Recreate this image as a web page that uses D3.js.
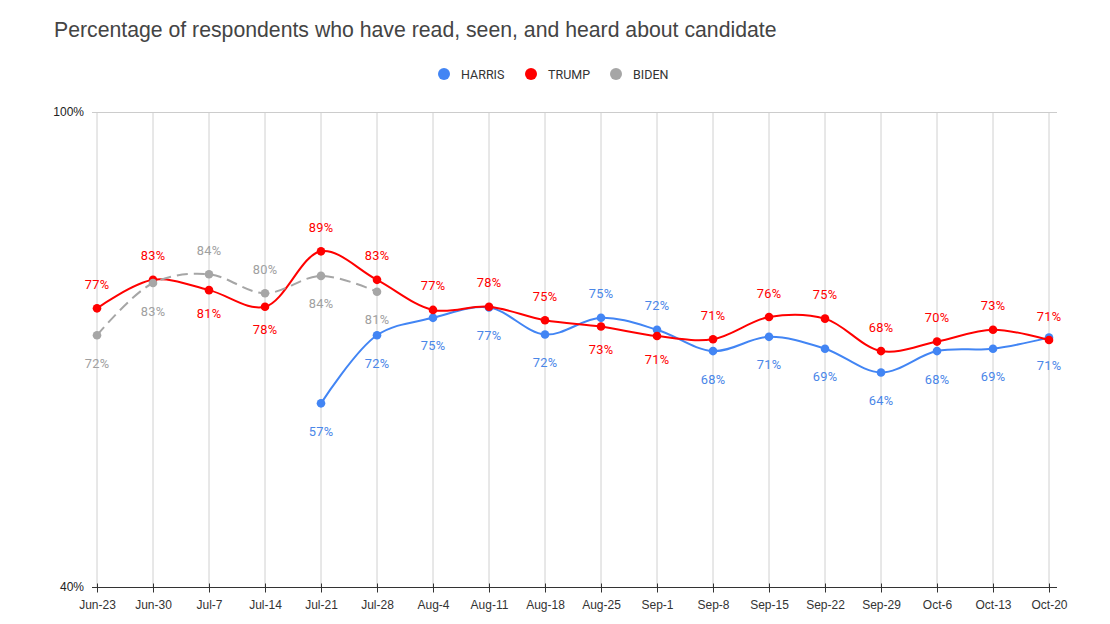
<!DOCTYPE html>
<html>
<head>
<meta charset="utf-8">
<script src="https://cdn.jsdelivr.net/npm/d3@7"></script>
<style>
  html, body { margin: 0; padding: 0; background: #fff; }
  svg { display: block; }
</style>
</head>
<body>
<svg id="chart" width="1110" height="624"></svg>
<script>
// ---- data ----
const categories = ["Jun-23","Jun-30","Jul-7","Jul-14","Jul-21","Jul-28","Aug-4","Aug-11","Aug-18","Aug-25","Sep-1","Sep-8","Sep-15","Sep-22","Sep-29","Oct-6","Oct-13","Oct-20"];
const seriesNames = ["HARRIS","TRUMP","BIDEN"];
// plotted values (as read against the 40%–100% axis)
const harrisValues = [null,null,null,null,63.2,71.8,74.0,75.3,71.9,74.0,72.5,69.8,71.6,70.1,67.1,69.8,70.1,71.5];
const trumpValues  = [75.2,78.8,77.5,75.4,82.4,78.8,75.0,75.4,73.7,72.9,71.7,71.3,74.1,73.9,69.8,71.0,72.5,71.2];
const bidenValues  = [71.8,78.4,79.5,77.1,79.3,77.3,null,null,null,null,null,null,null,null,null,null,null,null];
// data labels shown on the chart
const harrisLabels = [null,null,null,null,57,72,75,77,72,75,72,68,71,69,64,68,69,71];
const trumpLabels  = [77,83,81,78,89,83,77,78,75,73,71,71,76,75,68,70,73,71];
const bidenLabels  = [72,83,84,80,84,81,null,null,null,null,null,null,null,null,null,null,null,null];
// label side: 1 = above the point, -1 = below
const harrisLabelSide = [0,0,0,0,-1,-1,-1,-1,-1,1,1,-1,-1,-1,-1,-1,-1,-1];
const trumpLabelSide  = [1,1,-1,-1,1,1,1,1,1,-1,-1,1,1,1,1,1,1,1];
const bidenLabelSide  = [-1,-1,1,1,-1,-1,0,0,0,0,0,0,0,0,0,0,0,0];
const yTicks = [40, 100];
const titleText = "Percentage of respondents who have read, seen, and heard about candidate";

// ---- layout ----
const svg = d3.select("#chart");
const x = d3.scalePoint().domain(categories).range([97, 1049]);
const y = d3.scaleLinear().domain([40, 100]).range([587, 112]);
const colors = { HARRIS: "#4285f4", TRUMP: "#ff0000", BIDEN: "#a6a6a6" };
const labelColors = { HARRIS: "#4a86e8", TRUMP: "#ff0000", BIDEN: "#a0a0a0" };

// title
const title = svg.append("text")
  .attr("x", 54).attr("y", 37)
  .attr("font-family", "Liberation Sans, Arial, sans-serif")
  .attr("font-size", 20).attr("fill", "#444")
  .text(titleText);
const tw = title.node().getComputedTextLength();
title.attr("font-size", 20 * 723 / tw);

// legend
const legendItems = [
  { name: "HARRIS", cx: 444 },
  { name: "TRUMP", cx: 531 },
  { name: "BIDEN", cx: 616 }
];
const lg = svg.append("g");
legendItems.forEach(it => {
  lg.append("circle").attr("cx", it.cx).attr("cy", 74).attr("r", 6).attr("fill", colors[it.name]);
  lg.append("text").attr("x", it.cx + 17).attr("y", 74)
    .attr("dominant-baseline", "central")
    .attr("font-family", "Roboto, sans-serif").attr("font-size", 12.5)
    .attr("fill", "#333").text(it.name);
});

// gridlines
const grid = svg.append("g");
grid.selectAll("line.v").data(categories).join("line")
  .attr("x1", d => x(d)).attr("x2", d => x(d))
  .attr("y1", y(100)).attr("y2", y(40))
  .attr("stroke", "#d0d0d0").attr("stroke-width", 1);
grid.append("line")
  .attr("x1", 92).attr("x2", 1057)
  .attr("y1", y(100) + 0.5).attr("y2", y(100) + 0.5)
  .attr("stroke", "#cccccc").attr("stroke-width", 1);

// y axis labels
svg.append("g").selectAll("text").data(yTicks).join("text")
  .attr("x", 84).attr("y", d => y(d))
  .attr("text-anchor", "end").attr("dominant-baseline", "central")
  .attr("font-family", "Liberation Sans, Arial, sans-serif").attr("font-size", 12)
  .attr("fill", "#222").text(d => d + "%");

// x axis
const xAxis = d3.axisBottom(x).tickSizeInner(5).tickSizeOuter(0).tickPadding(8);
const xg = svg.append("g").attr("transform", `translate(0,${y(40) + 0.5})`).call(xAxis);
xg.select(".domain").remove();
xg.append("line").attr("x1", 92).attr("x2", 1057).attr("y1", 0).attr("y2", 0)
  .attr("stroke", "#333").attr("stroke-width", 1.2);
xg.selectAll(".tick line").attr("stroke", "#333").attr("y1", -4).attr("y2", 5);
xg.selectAll(".tick text")
  .attr("font-family", "Liberation Sans, Arial, sans-serif").attr("font-size", 12)
  .attr("fill", "#333");

// series
const series = [
  { name: "HARRIS", values: harrisValues, labels: harrisLabels, side: harrisLabelSide, dash: null, below: 28 },
  { name: "TRUMP", values: trumpValues, labels: trumpLabels, side: trumpLabelSide, dash: null, below: 23 },
  { name: "BIDEN", values: bidenValues, labels: bidenLabels, side: bidenLabelSide, dash: "11,6", below: 28 }
];
const line = d3.line()
  .defined(d => d.v != null)
  .x(d => x(d.c)).y(d => y(d.v))
  .curve(d3.curveCatmullRom.alpha(0.5));

const marks = svg.append("g");
series.forEach(s => {
  const pts = categories.map((c, i) => ({ c, v: s.values[i], l: s.labels[i], side: s.side[i] }));
  const g = marks.append("g");
  g.append("path").datum(pts).attr("d", line)
    .attr("fill", "none").attr("stroke", colors[s.name]).attr("stroke-width", 2)
    .attr("stroke-dasharray", s.dash);
  g.selectAll("circle").data(pts.filter(d => d.v != null)).join("circle")
    .attr("cx", d => x(d.c)).attr("cy", d => y(d.v)).attr("r", 4.3)
    .attr("fill", colors[s.name]);
  s.pts = pts;
});

const labelsG = svg.append("g");
series.forEach(s => {
  labelsG.selectAll(null).data(s.pts.filter(d => d.v != null)).join("text")
    .attr("x", d => x(d.c))
    .attr("y", d => y(d.v) + (d.side > 0 ? -24 : s.below))
    .attr("text-anchor", "middle").attr("dominant-baseline", "central")
    .attr("font-family", "Roboto, sans-serif").attr("font-size", 12.8)
    .attr("letter-spacing", 0.3)
    .attr("fill", labelColors[s.name])
    .text(d => d.l + "%");
});
</script>
</body>
</html>
